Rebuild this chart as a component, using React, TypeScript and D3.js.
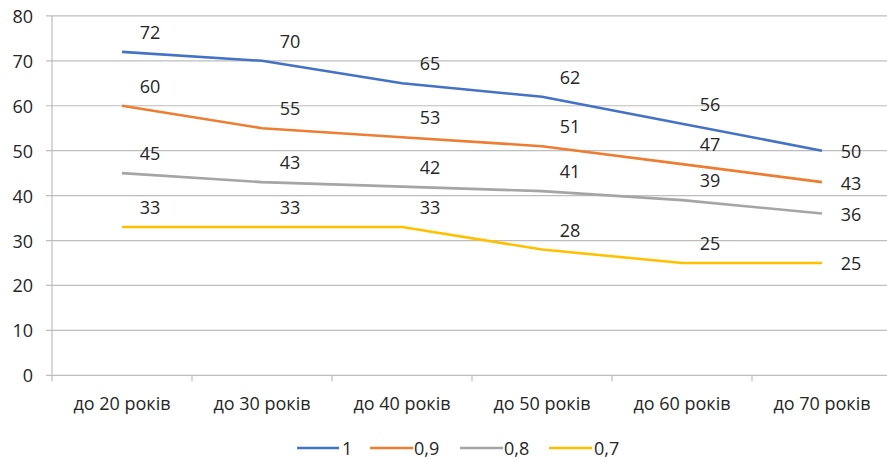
import React from "react";
import * as d3 from "d3";

const categories = ["до 20 років", "до 30 років", "до 40 років", "до 50 років", "до 60 років", "до 70 років"];
const seriesNames = ["1", "0,9", "0,8", "0,7"];
const values1 = [72, 70, 65, 62, 56, 50];
const values09 = [60, 55, 53, 51, 47, 43];
const values08 = [45, 43, 42, 41, 39, 36];
const values07 = [33, 33, 33, 28, 25, 25];
const yTicks = [0, 10, 20, 30, 40, 50, 60, 70, 80];
const colors = ["#4472C4", "#ED7D31", "#A5A5A5", "#FFC000"];

const W = 887;
const H = 459;
const FONT = "'Open Sans', sans-serif";
const TEXT = "#262626";

export default function App() {
  const series = [values1, values09, values08, values07];
  const left = 52;
  const band = 140;
  const x = d3
    .scaleBand<string>()
    .domain(categories)
    .range([left, left + band * categories.length])
    .paddingInner(0)
    .paddingOuter(0);
  const y = d3.scaleLinear().domain([0, 80]).range([375.3, 15.9]);
  const cx = (c: string) => (x(c) as number) + x.bandwidth() / 2;
  const line = d3
    .line<number>()
    .x((_, i) => cx(categories[i]))
    .y((d) => y(d));

  const legendItems = [
    { x1: 297, x2: 339, tx: 342 },
    { x1: 370, x2: 413, tx: 414 },
    { x1: 460, x2: 503, tx: 504 },
    { x1: 549, x2: 592, tx: 594 },
  ];

  return (
    <svg
      width={W}
      height={H}
      style={{ position: "absolute", left: 0, top: 0, background: "#fff" }}
      fontFamily={FONT}
    >
      <rect width={W} height={H} fill="#fff" />
      {yTicks.map((t) => (
        <g key={t}>
          <line x1={left - 6} x2={W} y1={y(t)} y2={y(t)} stroke="#bdbdbd" strokeWidth={1.2} />
          <text x={33} y={y(t)} textAnchor="end" dominantBaseline="central" fontSize={18} fill={TEXT}>
            {t}
          </text>
        </g>
      ))}
      <line x1={left} x2={left} y1={y(80)} y2={y(0) + 6} stroke="#bdbdbd" strokeWidth={1.2} />
      {categories.map((c, i) => (
        <g key={c}>
          {i > 0 && (
            <line x1={x(c) as number} x2={x(c) as number} y1={y(0)} y2={y(0) + 6} stroke="#bdbdbd" strokeWidth={1.2} />
          )}
          <text x={cx(c)} y={403} textAnchor="middle" dominantBaseline="central" fontSize={18} fill={TEXT}>
            {c}
          </text>
        </g>
      ))}
      {series.map((s, si) => (
        <path
          key={si}
          d={line(s) || ""}
          fill="none"
          stroke={colors[si]}
          strokeWidth={2.6}
          strokeLinejoin="round"
          strokeLinecap="butt"
        />
      ))}
      {series.map((s, si) =>
        s.map((v, i) => {
          const last = i === s.length - 1;
          return (
            <text
              key={`${si}-${i}`}
              x={cx(categories[i]) + (last ? 29 : 28)}
              y={y(v) + (last ? 0.5 : -20)}
              textAnchor="middle"
              dominantBaseline="central"
              fontSize={18}
              fill={TEXT}
            >
              {v}
            </text>
          );
        })
      )}
      {seriesNames.map((n, i) => (
        <g key={n}>
          <line
            x1={legendItems[i].x1}
            x2={legendItems[i].x2}
            y1={448}
            y2={448}
            stroke={colors[i]}
            strokeWidth={2.6}
          />
          <text x={legendItems[i].tx} y={448} dominantBaseline="central" fontSize={18} fill={TEXT}>
            {n}
          </text>
        </g>
      ))}
    </svg>
  );
}
